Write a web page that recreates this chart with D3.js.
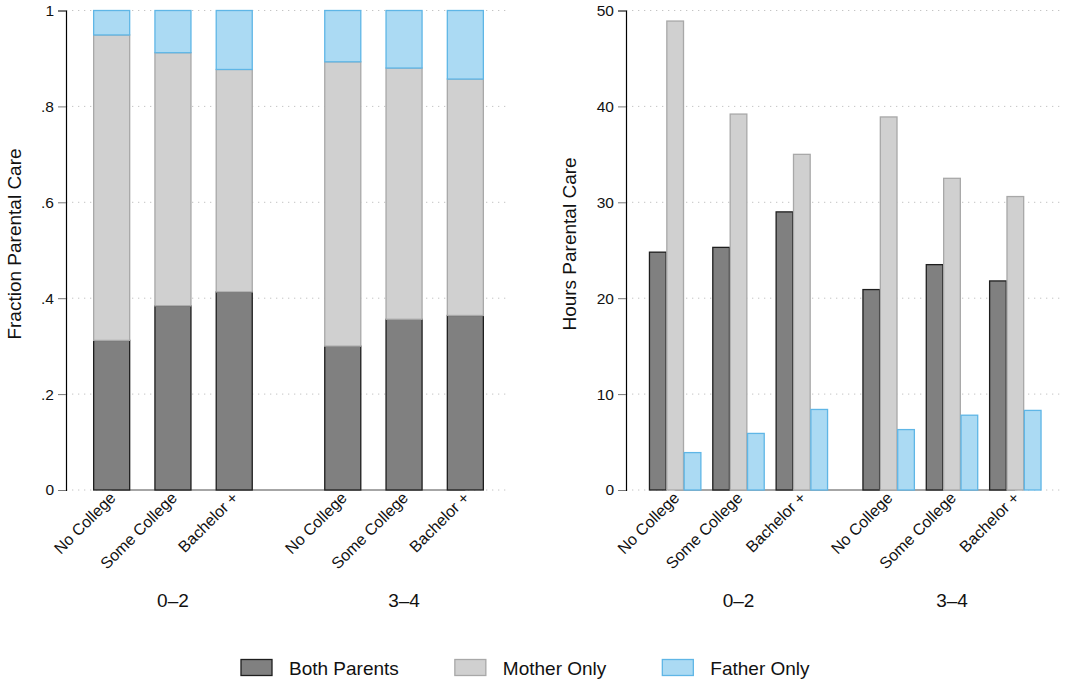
<!DOCTYPE html>
<html>
<head>
<meta charset="utf-8">
<script src="https://cdn.jsdelivr.net/npm/d3@7"></script>
<style>
  html, body { margin: 0; padding: 0; background: #fff; }
  svg { display: block; font-family: "Liberation Sans", Arial, Helvetica, sans-serif; }
</style>
</head>
<body>
<svg id="chart" width="1066" height="683"></svg>
<script>
// ---- Data ----
const groups = ["0–2", "3–4"];
const categories = ["No College", "Some College", "Bachelor +"];
const seriesNames = ["Both Parents", "Mother Only", "Father Only"];

// Fractions (order: 0–2 NoColl, SomeColl, Bach+, 3–4 NoColl, SomeColl, Bach+)
const fracBoth   = [0.312, 0.384, 0.413, 0.300, 0.356, 0.364];
const fracMother = [0.637, 0.528, 0.464, 0.593, 0.524, 0.493];
const fracFather = [0.051, 0.088, 0.123, 0.107, 0.120, 0.143];

// Hours
const hoursBoth   = [24.8, 25.3, 29.0, 20.9, 23.5, 21.8];
const hoursMother = [48.9, 39.2, 35.0, 38.9, 32.5, 30.6];
const hoursFather = [3.9, 5.9, 8.4, 6.3, 7.8, 8.3];

const fracTicks = [0, 0.2, 0.4, 0.6, 0.8, 1];
const fracTickLabels = ["0", ".2", ".4", ".6", ".8", "1"];
const hourTicks = [0, 10, 20, 30, 40, 50];

// ---- Styles ----
const fills   = ["#808080", "#d0d0d0", "#abdaf3"];
const strokes = ["#1e1e1e", "#a8a8a8", "#5fb6e6"];

const svg = d3.select("#chart");

function rows(a, b, c) {
  const out = [];
  groups.forEach((g, gi) => categories.forEach((cat, ci) => {
    const i = gi * categories.length + ci;
    out.push({ g, cat, vals: [a[i], b[i], c[i]] });
  }));
  return out;
}

function drawAxisFrame(opts) {
  const { y, ticks, labels, axisX, gridRight, title, titleX } = opts;
  svg.append("g").selectAll("line").data(ticks).join("line")
    .attr("x1", axisX).attr("x2", gridRight)
    .attr("y1", d => y(d)).attr("y2", d => y(d))
    .attr("stroke", "#c4c4c4").attr("stroke-width", 1)
    .attr("stroke-dasharray", "1.3,4.7");
  const ax = d3.axisLeft(y).tickValues(ticks).tickSize(8).tickPadding(4)
    .tickFormat((d, i) => labels[i]);
  const g = svg.append("g").attr("transform", `translate(${axisX},0)`).call(ax);
  g.select(".domain").attr("stroke", "#000").attr("stroke-width", 1.2);
  g.selectAll(".tick line").attr("stroke", "#777").attr("stroke-width", 1);
  g.selectAll(".tick text").attr("font-size", 15.5).attr("fill", "#111")
    .attr("font-family", "Liberation Sans, Arial, sans-serif");
  svg.append("text")
    .attr("transform", `translate(${titleX},244) rotate(-90)`)
    .attr("text-anchor", "middle").attr("font-size", 19).attr("fill", "#111")
    .text(title);
}

function drawXLabels(xCenter, data, y0) {
  const g = svg.append("g");
  data.forEach(d => {
    const cx = xCenter(d);
    g.append("text")
      .attr("transform", `translate(${cx + 5},${y0 + 9}) rotate(-45)`)
      .attr("text-anchor", "end").attr("font-size", 16).attr("fill", "#111")
      .text(d.cat);
  });
}

function drawGroupLabels(gx) {
  groups.forEach(gname => {
    svg.append("text")
      .attr("x", gx(gname) + gx.bandwidth() / 2).attr("y", 607)
      .attr("text-anchor", "middle").attr("font-size", 19).attr("fill", "#111")
      .text(gname);
  });
}

// ================= LEFT PANEL (stacked fractions) =================
(function () {
  const data = rows(fracBoth, fracMother, fracFather);
  const y = d3.scaleLinear().domain([0, 1]).range([490, 10.5]);
  const gx = d3.scaleBand().domain(groups).range([66, 511]).paddingInner(0.2045).paddingOuter(0.065);
  const cx = d3.scaleBand().domain(categories).range([0, gx.bandwidth()]).paddingInner(0.412).paddingOuter(0.206);
  const xStart = d => gx(d.g) + cx(d.cat);
  const xCenter = d => xStart(d) + cx.bandwidth() / 2;

  drawAxisFrame({ y, ticks: fracTicks, labels: fracTickLabels, axisX: 66, gridRight: 507,
    title: "Fraction Parental Care", titleX: 21 });

  svg.append("line")
    .attr("x1", xCenter(data[0])).attr("x2", xCenter(data[data.length - 1]))
    .attr("y1", y(0)).attr("y2", y(0)).attr("stroke", "#a6a6a6").attr("stroke-width", 2);

  const stack = d3.stack().keys([0, 1, 2]).value((d, k) => d.vals[k]);
  const layers = stack(data);
  layers.forEach((layer, k) => {
    svg.append("g").selectAll("rect").data(layer).join("rect")
      .attr("x", d => xStart(d.data))
      .attr("width", cx.bandwidth())
      .attr("y", d => y(d[1]))
      .attr("height", d => y(d[0]) - y(d[1]))
      .attr("fill", fills[k]).attr("stroke", strokes[k]).attr("stroke-width", 1.3);
  });

  drawXLabels(xCenter, data, 490);
  drawGroupLabels(gx);
})();

// ================= RIGHT PANEL (grouped hours) =================
(function () {
  const data = rows(hoursBoth, hoursMother, hoursFather);
  const y = d3.scaleLinear().domain([0, 50]).range([490, 10.5]);
  const gx = d3.scaleBand().domain(groups).range([626, 1064.5]).paddingInner(0.11).paddingOuter(0.082);
  const cx = d3.scaleBand().domain(categories).range([0, gx.bandwidth()]).paddingInner(0.188).paddingOuter(0.094);
  const sx = d3.scaleBand().domain([0, 1, 2]).range([0, cx.bandwidth()]).paddingInner(0.04);
  const xStart = d => gx(d.g) + cx(d.cat);
  const xCenter = d => xStart(d) + cx.bandwidth() / 2;

  drawAxisFrame({ y, ticks: hourTicks, labels: hourTicks.map(String), axisX: 626, gridRight: 1063,
    title: "Hours Parental Care", titleX: 576 });

  svg.append("line")
    .attr("x1", xCenter(data[0])).attr("x2", xCenter(data[data.length - 1]))
    .attr("y1", y(0)).attr("y2", y(0)).attr("stroke", "#a6a6a6").attr("stroke-width", 2);

  [0, 1, 2].forEach(k => {
    svg.append("g").selectAll("rect").data(data).join("rect")
      .attr("x", d => xStart(d) + sx(k))
      .attr("width", sx.bandwidth())
      .attr("y", d => y(d.vals[k]))
      .attr("height", d => y(0) - y(d.vals[k]))
      .attr("fill", fills[k]).attr("stroke", strokes[k]).attr("stroke-width", 1.3);
  });

  drawXLabels(xCenter, data, 490);
  drawGroupLabels(gx);
})();

// ================= LEGEND =================
(function () {
  const lg = svg.append("g");
  let x = 241;
  seriesNames.forEach((name, k) => {
    lg.append("rect").attr("x", x).attr("y", 659.5).attr("width", 31).attr("height", 16)
      .attr("fill", fills[k]).attr("stroke", strokes[k]).attr("stroke-width", 1.3);
    const t = lg.append("text").attr("x", x + 48).attr("y", 674.5)
      .attr("font-size", 19).attr("fill", "#111").text(name);
    x = x + 48 + t.node().getComputedTextLength() + 56;
  });
})();
</script>
</body>
</html>
